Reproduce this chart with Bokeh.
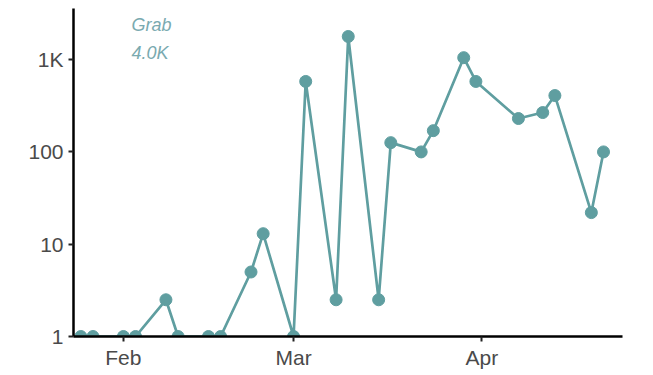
from datetime import datetime
from bokeh.plotting import figure
from bokeh.models import FixedTicker, DatetimeTickFormatter, Range1d, Label
from bokeh.embed import file_html
from bokeh.resources import INLINE

dates = ["2021-01-25", "2021-01-27", "2021-02-01", "2021-02-03", "2021-02-08", "2021-02-10",
         "2021-02-15", "2021-02-17", "2021-02-22", "2021-02-24", "2021-03-01", "2021-03-03",
         "2021-03-08", "2021-03-10", "2021-03-15", "2021-03-17", "2021-03-22", "2021-03-24",
         "2021-03-29", "2021-03-31", "2021-04-07", "2021-04-11", "2021-04-13", "2021-04-19",
         "2021-04-21"]
values = [1, 1, 1, 1, 2.5, 1, 1, 1, 5, 13, 1, 580, 2.5, 1780, 2.5, 126, 100, 170,
          1050, 580, 230, 267, 408, 22, 100]
month_ticks = ["2021-02-01", "2021-03-01", "2021-04-01"]
y_ticks = [1, 10, 100, 1000]
y_labels = {1: "1", 10: "10", 100: "100", 1000: "1K"}
series_name = "Grab"
series_total = "4.0K"

x = [datetime.strptime(d, "%Y-%m-%d") for d in dates]
xt = [datetime.strptime(d, "%Y-%m-%d").timestamp() * 1000 for d in month_ticks]

color = "#5F9EA0"
FONT = "Liberation Sans"

p = figure(width=645, height=374, x_axis_type="datetime", y_axis_type="log",
           output_backend="svg", toolbar_location=None,
           x_range=Range1d(datetime(2021, 1, 23, 19), datetime(2021, 4, 24, 3)),
           y_range=Range1d(1, 3580),
           min_border_left=73, min_border_right=23, min_border_top=8, min_border_bottom=38)

p.line(x, values, line_color=color, line_width=2.7)
p.scatter(x, values, size=12, fill_color=color, line_color=color)

p.xgrid.visible = False
p.ygrid.visible = False
p.outline_line_color = None

for ax in (p.xaxis[0], p.yaxis[0]):
    ax.axis_line_color = "black"
    ax.axis_line_width = 2.5
    ax.major_tick_line_color = "#222222"
    ax.major_tick_line_width = 2
    ax.major_tick_out = 5
    ax.major_tick_in = 0
    ax.minor_tick_line_color = None
    ax.major_label_text_font = FONT
    ax.major_label_text_font_size = "21px"
    ax.major_label_text_color = "#4a4a4a"

p.xaxis.ticker = FixedTicker(ticks=xt)
p.xaxis.formatter = DatetimeTickFormatter(days="%b", months="%b", years="%b", hours="%b")
p.xaxis.major_label_standoff = 4
p.yaxis.ticker = FixedTicker(ticks=y_ticks)
p.yaxis.major_label_overrides = y_labels
p.yaxis.major_label_standoff = 5

p.add_layout(Label(x=datetime(2021, 2, 2, 8), y=10 ** 3.37, text=series_name,
                   text_font=FONT, text_font_style="italic", text_font_size="18px",
                   text_color="#7AAAB0", text_baseline="alphabetic"))
p.add_layout(Label(x=datetime(2021, 2, 2, 8), y=10 ** 3.077, text=series_total,
                   text_font=FONT, text_font_style="italic", text_font_size="18px",
                   text_color="#7AAAB0", text_baseline="alphabetic"))

open("out.html", "w").write(file_html(p, INLINE))
